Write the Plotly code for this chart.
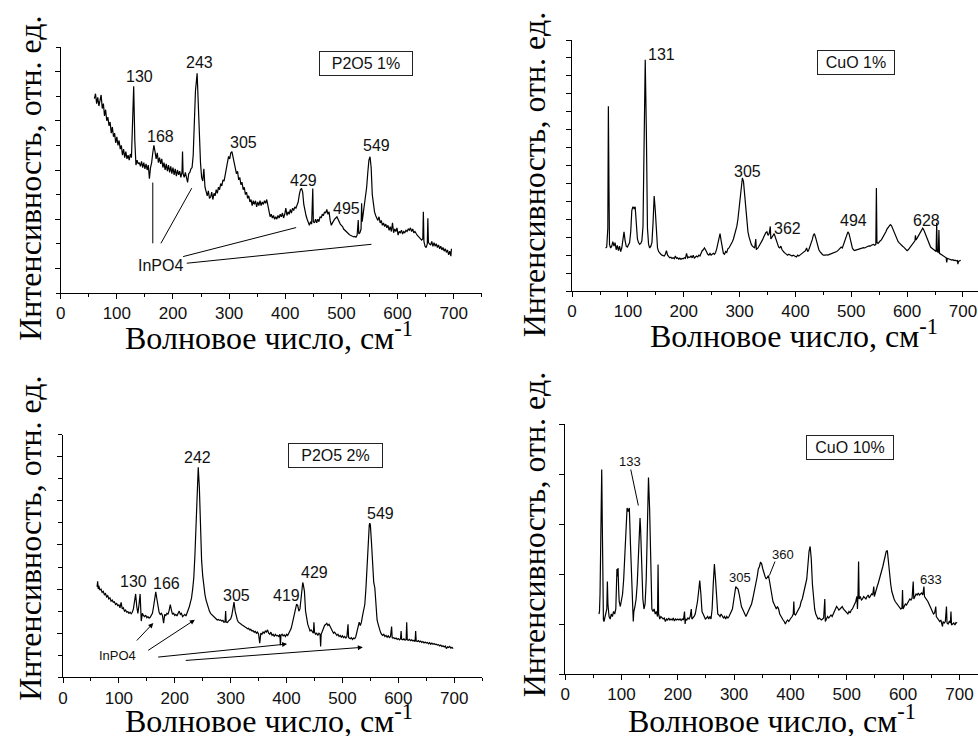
import plotly.graph_objects as go

# ---------------------------------------------------------------------------
# Raman spectra of glasses with additives (wavenumber, cm-1 / intensity, a.u.)
# ---------------------------------------------------------------------------

# P2O5 1 %
p2o5_1_wn = [60, 62, 64, 66, 68, 70, 72, 74, 76, 78, 80, 82, 84, 86, 88, 90, 92, 94, 96, 98,
             100, 102, 104, 106, 108, 110, 112, 114, 116, 118, 120, 122, 124, 126, 128, 130, 132, 134, 136, 138,
             140, 142, 144, 146, 148, 150, 152, 154, 156, 158, 160, 162, 164, 166, 168, 170, 172, 174, 176, 178,
             180, 182, 184, 186, 188, 190, 192, 194, 196, 198, 200, 202, 204, 206, 208, 210, 212, 214, 216, 217,
             218, 220, 222, 224, 226, 228, 230, 232, 234, 236, 238, 240, 243, 245, 247, 249, 251, 253, 255, 257,
             259, 261, 263, 265, 267, 269, 271, 273, 275, 277, 279, 281, 283, 285, 287, 289, 291, 293, 295, 297,
             299, 301, 303, 305, 307, 309, 311, 313, 315, 317, 319, 321, 323, 325, 327, 329, 331, 333, 335, 337,
             339, 341, 343, 345, 347, 349, 351, 353, 355, 357, 359, 361, 363, 365, 367, 369, 371, 373, 375, 377,
             379, 381, 383, 385, 387, 389, 391, 393, 395, 397, 399, 401, 403, 405, 407, 409, 411, 413, 415, 417,
             419, 421, 423, 425, 427, 429, 431, 433, 435, 437, 439, 441, 443, 445, 447, 449, 450, 452, 454, 456,
             458, 460, 462, 464, 466, 468, 470, 472, 474, 476, 478, 480, 482, 484, 486, 488, 490, 492, 494, 496,
             498, 500, 502, 504, 506, 508, 510, 512, 514, 516, 518, 520, 522, 524, 526, 528, 530, 531, 533, 535,
             536, 537, 539, 541, 543, 545, 547, 549, 551, 553, 555, 557, 559, 561, 563, 565, 567, 569, 571, 573,
             575, 577, 579, 581, 583, 585, 587, 589, 591, 593, 595, 597, 599, 601, 603, 605, 607, 609, 611, 613,
             615, 617, 619, 621, 623, 625, 627, 629, 631, 633, 635, 637, 639, 641, 643, 645, 646, 647, 649, 651,
             653, 654, 655, 657, 659, 661, 663, 665, 667, 669, 671, 673, 675, 677, 679, 681, 683, 685, 687, 689,
             691, 693, 695, 696]
p2o5_1_int = [7.9, 8.1, 7.7, 7.95, 7.6, 7.85, 8.05, 7.5, 7.7, 7.2, 7.45, 7.0, 7.15, 6.8, 6.95, 6.5, 6.75, 6.35, 6.5, 6.1,
              6.35, 6.0, 6.2, 5.85, 6.0, 5.6, 5.85, 5.5, 5.75, 5.45, 5.6, 5.4, 5.65, 5.5, 6.6, 8.4, 6.2, 5.2, 5.4, 5.25,
              5.3, 5.15, 5.35, 5.1, 5.3, 5.05, 5.25, 5.0, 5.2, 4.65, 5.1, 5.3, 5.7, 6.0, 5.75, 5.45, 5.7, 5.3, 5.5, 5.25,
              5.45, 5.1, 5.3, 5.0, 5.25, 4.95, 5.2, 4.9, 5.15, 4.85, 5.1, 4.8, 5.05, 4.75, 5.0, 4.8, 4.95, 4.7, 4.9, 5.75,
              4.85, 4.7, 4.9, 4.65, 4.5, 4.85, 4.9, 5.05, 5.1, 5.6, 6.8, 8.2, 8.93, 8.0, 6.5, 5.3, 4.7, 4.55, 5.05, 4.3,
              4.1, 3.95, 4.15, 3.85, 3.9, 4.1, 3.8, 4.05, 3.95, 4.2, 4.05, 4.3, 4.2, 4.45, 4.35, 4.6, 4.55, 4.8, 5.0, 5.3,
              5.55, 5.45, 5.7, 5.75, 5.5, 5.2, 5.0, 4.85, 4.95, 4.6, 4.7, 4.4, 4.5, 4.2, 4.3, 4.0, 4.1, 3.85, 3.95, 3.7,
              3.8, 3.55, 3.75, 3.6, 3.75, 3.5, 3.7, 3.55, 3.75, 3.55, 3.7, 3.6, 3.75, 3.65, 3.8, 3.5, 3.2, 3.1, 3.2, 3.05,
              3.15, 3.0, 3.1, 3.0, 3.15, 3.05, 3.2, 3.1, 3.25, 3.05, 3.2, 3.45, 3.15, 3.3, 3.2, 3.4, 3.25, 3.45, 3.35, 3.5,
              3.45, 3.6, 3.7, 4.0, 4.2, 4.25, 4.1, 3.6, 3.3, 3.15, 3.0, 2.85, 2.75, 2.9, 2.8, 4.25, 2.9, 2.85, 3.0, 2.85,
              3.0, 2.9, 3.1, 3.05, 3.2, 3.15, 3.3, 3.25, 3.4, 3.2, 3.3, 2.95, 2.75, 2.85, 2.95, 3.0, 3.05, 3.1, 3.0, 2.85,
              2.8, 2.75, 2.7, 2.6, 2.55, 2.5, 2.45, 2.42, 2.38, 2.35, 2.32, 2.3, 2.28, 2.3, 2.27, 2.35, 2.97, 2.4, 2.45, 2.6,
              3.65, 2.9, 3.2, 3.6, 3.9, 4.3, 4.9, 5.4, 5.54, 5.1, 4.0, 3.5, 3.3, 3.15, 3.0, 2.95, 3.1, 2.85, 2.95, 2.75,
              2.85, 2.7, 2.8, 2.65, 2.75, 2.55, 2.7, 2.5, 2.85, 2.45, 2.6, 2.5, 2.65, 2.35, 2.5, 2.45, 2.55, 2.4, 2.5, 2.45,
              2.55, 2.5, 2.6, 2.55, 2.65, 2.5, 2.6, 2.45, 2.5, 2.4, 2.35, 2.3, 2.25, 2.2, 2.15, 2.2, 3.3, 2.1, 1.9, 1.85,
              2.0, 3.04, 2.05, 2.0, 1.95, 2.1, 1.9, 2.05, 1.9, 2.0, 1.85, 1.95, 1.8, 1.9, 1.75, 1.85, 1.7, 1.8, 1.65, 1.75,
              1.55, 1.7, 1.5, 1.8]

# CuO 1 %
cuo_1_wn = [60, 62, 64, 65, 66, 67, 69, 71, 73, 75, 77, 79, 81, 83, 85, 87, 89, 91, 93, 95,
            97, 99, 101, 103, 105, 107, 109, 111, 113, 115, 117, 119, 121, 123, 125, 127, 129, 131, 133, 135,
            137, 139, 141, 143, 145, 147, 149, 151, 153, 155, 157, 159, 161, 163, 165, 167, 169, 171, 173, 175,
            177, 179, 181, 183, 185, 187, 189, 191, 193, 195, 197, 199, 201, 203, 205, 207, 209, 211, 213, 215,
            217, 219, 221, 223, 225, 227, 229, 231, 233, 235, 237, 239, 241, 243, 245, 247, 249, 251, 253, 255,
            257, 259, 261, 263, 265, 267, 269, 271, 273, 275, 277, 279, 281, 283, 285, 287, 289, 291, 293, 295,
            297, 299, 301, 303, 305, 307, 309, 311, 313, 315, 317, 319, 321, 323, 325, 327, 329, 330, 331, 333,
            335, 337, 339, 341, 343, 345, 347, 349, 351, 353, 355, 356, 358, 360, 362, 364, 366, 368, 370, 372,
            374, 376, 378, 380, 382, 384, 386, 388, 390, 392, 394, 396, 398, 400, 402, 404, 406, 408, 410, 412,
            414, 416, 418, 420, 422, 424, 426, 428, 430, 432, 434, 436, 438, 440, 442, 444, 446, 448, 450, 452,
            454, 456, 458, 460, 462, 464, 466, 468, 470, 472, 474, 476, 478, 480, 482, 484, 486, 488, 490, 492,
            494, 496, 498, 500, 502, 504, 506, 508, 510, 512, 514, 516, 518, 520, 522, 524, 526, 528, 530, 532,
            534, 536, 538, 540, 542, 544, 545, 546, 548, 550, 552, 554, 556, 558, 560, 562, 564, 566, 568, 570,
            572, 574, 576, 578, 580, 582, 584, 586, 588, 590, 592, 594, 596, 598, 600, 602, 604, 606, 608, 610,
            612, 614, 615, 616, 618, 620, 622, 624, 626, 628, 630, 632, 634, 636, 638, 640, 642, 644, 646, 648,
            650, 652, 653, 654, 656, 657, 658, 660, 662, 664, 666, 668, 670, 671, 672, 674, 676, 678, 680, 682,
            684, 686, 688, 690, 691, 692, 694, 696]
cuo_1_int = [2.4, 2.45, 3.5, 10.3, 6.0, 2.6, 2.4, 2.5, 2.75, 2.5, 2.7, 2.3, 2.55, 2.25, 2.5, 2.2, 2.4, 2.9, 3.3, 2.8,
             2.5, 2.45, 2.55, 2.7, 3.3, 4.5, 4.7, 4.6, 4.7, 3.8, 2.9, 2.7, 2.6, 2.65, 2.8, 3.6, 8.0, 12.9, 9.0, 3.5,
             2.6, 2.4, 2.5, 2.7, 3.8, 5.3, 4.5, 3.0, 2.4, 2.2, 2.1, 2.05, 2.0, 1.98, 1.95, 2.05, 2.25, 2.0, 1.9, 1.85,
             1.88, 1.82, 1.86, 1.8, 1.95, 1.82, 1.85, 1.78, 1.83, 1.76, 1.82, 1.8, 1.85, 1.82, 2.1, 1.85, 1.9, 1.88, 1.95, 1.85,
             2.0, 1.82, 1.9, 1.95, 1.9, 2.0, 1.95, 2.15, 2.25, 2.3, 2.4, 2.3, 2.15, 2.05, 2.0, 2.1, 2.0, 2.05, 2.1, 2.05,
             2.15, 2.35, 2.7, 3.0, 3.2, 2.8, 2.3, 2.1, 2.05, 2.2, 2.15, 2.35, 2.4, 2.5, 2.6, 2.75, 2.9, 3.1, 3.3, 3.6,
             4.0, 4.6, 5.3, 5.9, 6.3, 6.1, 5.3, 4.5, 3.8, 3.3, 3.0, 2.75, 2.6, 2.5, 2.45, 2.4, 2.9, 2.3, 2.35, 2.4,
             2.5, 2.6, 2.7, 2.85, 3.0, 3.15, 3.25, 3.3, 3.1, 3.2, 3.6, 2.9, 3.0, 3.1, 3.2, 3.0, 2.8, 2.6, 2.45, 2.4,
             2.5, 2.3, 2.2, 2.15, 2.1, 2.05, 2.0, 2.05, 2.0, 1.98, 1.95, 2.0, 1.95, 1.93, 1.9, 2.0, 1.95, 2.0, 2.05, 2.1,
             2.15, 2.2, 2.25, 2.4, 2.2, 2.3, 2.45, 2.6, 2.85, 3.1, 3.2, 3.0, 2.7, 2.45, 2.3, 2.2, 2.1, 2.05, 2.0, 1.98,
             2.0, 2.02, 2.0, 2.03, 2.05, 2.08, 2.1, 2.12, 2.15, 2.18, 2.2, 2.25, 2.3, 2.35, 2.45, 2.4, 2.6, 2.7, 2.9, 3.15,
             3.3, 3.2, 2.9, 2.6, 2.4, 2.3, 2.25, 2.28, 2.3, 2.32, 2.35, 2.33, 2.38, 2.4, 2.42, 2.4, 2.45, 2.48, 2.5, 2.52,
             2.5, 2.55, 2.58, 2.6, 2.55, 2.6, 5.75, 2.7, 2.65, 2.75, 2.8, 2.85, 2.95, 3.05, 3.15, 3.3, 3.45, 3.55, 3.6, 3.7,
             3.65, 3.5, 3.3, 3.1, 2.95, 2.85, 2.75, 2.68, 2.6, 2.55, 2.5, 2.45, 2.38, 2.3, 2.25, 2.3, 2.38, 2.45, 2.52, 2.6,
             2.7, 2.8, 3.1, 2.85, 2.95, 3.05, 3.15, 3.3, 3.4, 3.5, 3.4, 3.25, 3.05, 2.85, 2.7, 2.55, 2.45, 2.4, 2.35, 2.3,
             2.25, 2.2, 3.8, 2.2, 2.15, 3.4, 2.1, 2.05, 2.0, 1.95, 1.9, 1.88, 1.85, 1.6, 1.82, 1.8, 1.78, 1.75, 1.72, 1.75,
             1.7, 1.72, 1.68, 1.7, 1.5, 1.65, 1.7, 1.72]

# P2O5 2 %
p2o5_2_wn = [61, 62, 63, 64, 66, 68, 70, 72, 74, 76, 78, 80, 82, 84, 86, 88, 90, 92, 94, 96,
             98, 100, 102, 104, 106, 108, 110, 112, 114, 116, 118, 120, 122, 124, 126, 128, 130, 132, 134, 136,
             138, 140, 142, 144, 146, 148, 150, 152, 154, 156, 158, 160, 162, 164, 166, 168, 170, 172, 174, 176,
             178, 180, 182, 184, 186, 188, 190, 192, 194, 196, 198, 200, 202, 204, 206, 208, 210, 212, 214, 216,
             218, 220, 222, 224, 226, 228, 230, 232, 234, 236, 238, 240, 242, 244, 246, 248, 250, 252, 254, 256,
             258, 260, 262, 264, 266, 268, 270, 272, 274, 276, 278, 280, 282, 284, 286, 288, 290, 291, 292, 294,
             296, 298, 300, 302, 304, 306, 308, 310, 312, 314, 316, 318, 320, 322, 324, 326, 328, 330, 332, 334,
             336, 338, 340, 342, 344, 346, 348, 350, 352, 354, 356, 358, 360, 362, 364, 366, 368, 370, 372, 374,
             376, 378, 380, 382, 384, 386, 388, 389, 390, 392, 394, 396, 398, 400, 402, 404, 406, 408, 410, 412,
             414, 416, 418, 420, 422, 424, 426, 428, 429, 430, 432, 434, 436, 438, 440, 442, 444, 446, 448, 449,
             450, 452, 454, 456, 458, 460, 461, 462, 464, 466, 468, 470, 472, 474, 476, 478, 480, 482, 484, 486,
             488, 490, 492, 494, 496, 498, 500, 502, 504, 506, 508, 510, 511, 512, 514, 516, 518, 520, 522, 524,
             526, 528, 530, 532, 534, 536, 538, 540, 542, 544, 546, 548, 549, 550, 552, 554, 556, 558, 560, 562,
             564, 566, 568, 570, 572, 574, 576, 578, 580, 582, 584, 586, 588, 589, 590, 592, 594, 596, 598, 600,
             602, 604, 605, 606, 608, 610, 612, 614, 615, 616, 618, 620, 622, 624, 626, 628, 630, 631, 632, 634,
             636, 638, 640, 642, 644, 646, 648, 650, 652, 654, 656, 658, 660, 662, 664, 666, 668, 670, 672, 674,
             676, 678, 680, 682, 684, 686, 688, 690, 692, 694, 696, 698]
p2o5_2_int = [4.1, 4.35, 4.0, 4.15, 3.95, 4.0, 3.85, 3.9, 3.75, 3.8, 3.65, 3.7, 3.55, 3.6, 3.45, 3.5, 3.4, 3.42, 3.3, 3.35,
              3.25, 3.28, 3.15, 3.4, 3.1, 3.15, 3.0, 3.05, 2.95, 2.98, 2.9, 2.95, 2.88, 2.95, 3.1, 3.5, 3.78, 3.2, 2.9, 3.3,
              3.78, 2.55, 2.9, 2.8, 2.75, 2.82, 2.7, 2.75, 2.68, 2.72, 2.8, 2.9, 3.2, 3.6, 3.87, 3.55, 3.1, 2.95, 2.85, 2.9,
              2.8, 2.45, 2.85, 2.8, 2.9, 2.85, 3.05, 3.29, 3.05, 2.85, 2.9, 2.8, 2.85, 2.78, 2.9, 3.0, 2.85, 2.9, 2.75, 2.8,
              2.85, 2.78, 2.9, 3.05, 3.2, 3.4, 3.6, 4.0, 4.5, 5.5, 7.2, 8.8, 9.52, 8.6, 6.6, 5.3, 4.6, 4.1, 3.75, 3.5,
              3.3, 3.15, 3.0, 2.9, 2.85, 2.78, 2.72, 2.68, 2.65, 2.6, 2.62, 2.58, 2.6, 2.55, 2.58, 2.5, 2.52, 3.0, 2.5, 2.48,
              2.55, 2.6, 2.65, 2.8, 3.1, 3.41, 3.0, 2.7, 2.6, 2.5, 2.45, 2.4, 2.38, 2.35, 2.3, 2.28, 2.25, 2.2, 2.22, 2.15,
              2.18, 2.1, 2.12, 2.05, 2.08, 2.0, 2.05, 1.95, 1.55, 2.0, 1.95, 2.05, 2.0, 2.1, 2.05, 2.15, 2.0, 1.95, 2.05, 1.9,
              1.95, 1.85, 1.95, 1.88, 1.9, 1.85, 1.95, 1.45, 1.9, 1.95, 1.88, 1.92, 1.85, 1.95, 1.9, 2.0, 2.05, 2.2, 2.4, 2.6,
              2.8, 3.0, 3.32, 3.25, 3.0, 3.1, 3.5, 4.1, 4.3, 4.2, 3.9, 3.0, 2.6, 2.4, 2.25, 2.1, 2.15, 2.05, 2.0, 2.5,
              2.05, 1.95, 2.0, 1.9, 2.0, 1.95, 1.4, 1.95, 2.1, 2.2, 2.35, 2.39, 2.45, 2.35, 2.4, 2.3, 2.2, 2.1, 2.0, 2.05,
              1.95, 1.9, 1.95, 1.85, 1.9, 1.82, 1.88, 1.8, 1.85, 1.78, 1.85, 2.4, 1.8, 1.78, 1.75, 1.8, 1.72, 1.78, 1.75, 1.85,
              2.1, 2.4, 2.5, 2.35, 2.5, 2.8, 3.1, 3.3, 4.0, 5.2, 6.2, 6.9, 6.99, 6.9, 6.1, 5.0, 4.3, 4.05, 3.2, 2.6,
              2.4, 2.2, 2.05, 1.95, 1.9, 1.95, 1.85, 1.9, 1.82, 1.88, 1.8, 1.85, 2.3, 1.8, 1.78, 1.8, 1.75, 1.78, 1.72, 1.76,
              1.7, 1.75, 2.1, 1.72, 1.7, 1.74, 1.68, 1.72, 2.5, 1.7, 1.68, 1.72, 1.66, 1.7, 1.65, 1.68, 1.62, 2.1, 1.65, 1.62,
              1.66, 1.6, 1.64, 1.58, 1.62, 1.56, 1.6, 1.55, 1.58, 1.52, 1.57, 1.5, 1.55, 1.5, 1.53, 1.48, 1.5, 1.46, 1.48, 1.42,
              1.46, 1.4, 1.43, 1.38, 1.42, 1.3, 1.38, 1.35, 1.4, 1.32, 1.36, 1.3]

# CuO 10 %
cuo_10_wn = [60, 61, 62, 64, 65, 66, 67, 68, 69, 70, 72, 74, 75, 76, 78, 80, 82, 84, 86, 88,
             90, 91, 92, 93, 94, 95, 96, 98, 100, 102, 104, 106, 108, 110, 112, 114, 116, 118, 120, 121,
             122, 124, 126, 128, 130, 132, 133, 134, 136, 138, 140, 142, 144, 146, 148, 150, 152, 154, 156, 158,
             160, 162, 164, 165, 166, 168, 170, 172, 174, 176, 178, 180, 182, 184, 186, 188, 190, 192, 194, 196,
             198, 200, 202, 204, 206, 208, 210, 212, 213, 214, 216, 218, 220, 222, 224, 225, 227, 229, 231, 233,
             235, 237, 239, 241, 243, 245, 247, 249, 251, 253, 255, 257, 259, 261, 263, 265, 267, 269, 271, 273,
             275, 277, 279, 281, 283, 285, 287, 289, 291, 293, 295, 297, 299, 301, 303, 305, 307, 309, 311, 313,
             315, 317, 319, 321, 323, 325, 327, 329, 331, 333, 335, 337, 339, 341, 343, 345, 347, 349, 351, 353,
             355, 357, 359, 361, 363, 365, 367, 369, 371, 373, 375, 377, 379, 381, 383, 385, 387, 389, 391, 393,
             395, 397, 399, 401, 403, 405, 406, 407, 409, 411, 413, 415, 417, 419, 421, 423, 425, 427, 429, 431,
             433, 435, 437, 439, 441, 443, 445, 447, 449, 451, 453, 455, 457, 459, 461, 462, 464, 466, 468, 470,
             472, 474, 476, 478, 480, 482, 484, 486, 488, 490, 492, 494, 496, 498, 500, 502, 504, 506, 508, 510,
             512, 514, 516, 518, 519, 520, 521, 522, 524, 526, 528, 530, 532, 534, 536, 538, 540, 542, 544, 546,
             548, 549, 550, 552, 554, 556, 558, 560, 562, 564, 566, 568, 570, 572, 574, 576, 578, 580, 582, 584,
             586, 588, 590, 592, 594, 596, 598, 599, 600, 602, 604, 606, 608, 610, 612, 614, 616, 618, 619, 621,
             623, 625, 627, 629, 631, 633, 635, 637, 638, 640, 642, 644, 646, 648, 650, 652, 654, 656, 658, 659,
             661, 663, 665, 667, 669, 670, 671, 673, 675, 677, 678, 680, 682, 684, 685, 686, 688, 690, 692, 694,
             696]
cuo_10_int = [1.2, 1.25, 1.6, 3.5, 4.09, 3.0, 1.5, 1.08, 1.05, 1.1, 1.15, 1.3, 1.85, 1.4, 1.15, 1.1, 1.2, 1.15, 1.25, 1.2,
              1.3, 1.9, 2.1, 1.95, 2.12, 1.7, 1.45, 1.35, 1.45, 1.6, 1.9, 2.5, 3.1, 3.32, 3.25, 3.32, 2.6, 1.7, 1.35, 1.05,
              1.25, 1.35, 1.5, 1.8, 2.5, 3.1, 3.12, 2.9, 2.2, 1.5, 1.3, 1.4, 1.9, 3.2, 3.93, 3.3, 1.9, 1.3, 1.25, 1.3,
              1.2, 1.25, 1.15, 2.19, 1.2, 1.1, 1.15, 1.12, 1.1, 1.12, 1.05, 1.1, 1.08, 1.12, 1.08, 1.1, 1.08, 1.12, 1.06, 1.1,
              1.08, 1.1, 1.08, 1.1, 1.07, 1.1, 1.08, 1.25, 1.0, 1.1, 1.08, 1.12, 1.1, 1.15, 1.3, 1.1, 1.12, 1.15, 1.2, 1.3,
              1.45, 1.65, 1.87, 1.6, 1.25, 1.2, 1.15, 1.1, 1.12, 1.15, 1.1, 1.15, 1.1, 1.3, 1.8, 2.2, 1.9, 1.4, 1.2, 1.18,
              1.15, 1.2, 1.15, 1.12, 1.15, 1.1, 1.15, 1.12, 1.15, 1.2, 1.25, 1.3, 1.45, 1.6, 1.75, 1.72, 1.7, 1.6, 1.45, 1.35,
              1.3, 1.25, 1.2, 1.15, 1.2, 1.25, 1.3, 1.35, 1.4, 1.5, 1.6, 1.7, 1.8, 1.95, 2.1, 2.15, 2.24, 2.2, 2.1, 2.0,
              1.95, 1.9, 1.95, 1.97, 1.85, 1.7, 1.55, 1.45, 1.4, 1.35, 1.3, 1.35, 1.3, 1.2, 1.15, 1.1, 1.08, 1.05, 1.0, 1.05,
              1.08, 1.05, 1.1, 1.12, 1.15, 1.2, 1.45, 1.2, 1.18, 1.22, 1.25, 1.3, 1.35, 1.45, 1.5, 1.6, 1.75, 1.8, 1.9, 2.2,
              2.45, 2.55, 2.3, 1.8, 1.5, 1.3, 1.2, 1.15, 1.1, 1.12, 1.1, 1.08, 1.1, 1.12, 1.5, 1.05, 1.1, 1.15, 1.12, 1.15,
              1.18, 1.15, 1.2, 1.22, 1.3, 1.35, 1.32, 1.28, 1.3, 1.32, 1.35, 1.3, 1.28, 1.25, 1.22, 1.2, 1.25, 1.22, 1.28, 1.3,
              1.35, 1.4, 1.45, 1.55, 1.3, 1.6, 2.25, 1.5, 1.55, 1.48, 1.5, 1.55, 1.52, 1.5, 1.55, 1.58, 1.52, 1.55, 1.6, 1.58,
              1.75, 1.55, 1.6, 1.68, 1.75, 1.82, 1.9, 1.95, 2.05, 2.15, 2.25, 2.35, 2.45, 2.47, 2.2, 1.95, 1.8, 1.65, 1.55, 1.5,
              1.45, 1.42, 1.38, 1.35, 1.32, 1.3, 1.32, 1.68, 1.3, 1.35, 1.4, 1.38, 1.42, 1.45, 1.5, 1.48, 1.52, 1.85, 1.5, 1.55,
              1.6, 1.58, 1.62, 1.58, 1.6, 1.62, 1.58, 1.75, 1.55, 1.52, 1.5, 1.45, 1.4, 1.35, 1.3, 1.25, 1.2, 1.22, 1.35, 1.15,
              1.12, 1.1, 1.05, 1.08, 1.0, 0.95, 1.05, 1.02, 1.05, 1.35, 1.02, 1.0, 1.05, 1.02, 1.25, 0.98, 1.0, 1.02, 0.98, 1.03,
              1.02]

# Peak labels: (text, x, y)
p2o5_1_labels = [("130", 140, 8.79), ("243", 248, 9.36), ("168", 177, 6.38), ("305", 325, 6.12),
                 ("429", 432, 4.59), ("549", 563, 5.98), ("495", 509, 3.44)]
cuo_1_labels = [("131", 161, 13.2), ("305", 314, 6.65), ("362", 386, 3.46), ("494", 504, 3.96),
                ("628", 635, 3.96)]
p2o5_2_labels = [("130", 127, 4.35), ("166", 185, 4.27), ("242", 240, 9.97), ("305", 311, 3.72),
                 ("419", 400, 3.72), ("429", 450, 4.77), ("549", 569, 7.42)]
cuo_10_labels = [("133", 115, 4.25), ("305", 310, 1.93), ("360", 387, 2.39), ("633", 650, 1.89)]

# InPO4 pointers: (x0, y0, x1, y1)
p2o5_1_inpo4 = [(164, 2.02, 164, 4.49), (178.5, 2.02, 233.4, 4.26),
                (218, 1.48, 419.4, 2.66), (224.5, 1.21, 553.5, 1.98)]
p2o5_2_inpo4 = [(129.5, 1.6, 161.6, 2.46), (149.8, 1.18, 236, 2.61),
                (167.6, 0.91, 401, 1.51), (216.9, 0.76, 536.5, 1.36)]
cuo_10_leaders = [(116.5, 4.09, 130, 3.37), (372.6, 2.25, 362.6, 1.97)]

W, H = 978, 736
SANS = "Liberation Sans, Arial, sans-serif"
SERIF = "Liberation Serif, Times New Roman, serif"
Y_TITLE = "Интенсивность, отн. ед."
X_TITLE = "Волновое число, см<sup>-1</sup>"


def fx(p):
    return p / W


def fy(p):
    return 1 - p / H


# Panel frames in pixels: (x-left, x-right, y-top, y-bottom); title centres in pixels
panels = [
    dict(wn=p2o5_1_wn, inten=p2o5_1_int, box="P2O5 1%", box_xy=(543, 9.34), box_w=86,
         dom=(56, 479.2, 47, 293), xmax=750, ymax=10, ymaj=[1, 3, 5, 7, 9],
         ytitle=(25, 178), xtitle=(265, 336)),
    dict(wn=cuo_1_wn, inten=cuo_1_int, box="CuO 1%", box_xy=(509, 12.75), box_w=70,
         dom=(570, 978, 40, 291), xmax=727, ymax=14, ymaj=list(range(0, 15)),
         ytitle=(532, 175), xtitle=(793, 334)),
    dict(wn=p2o5_2_wn, inten=p2o5_2_int, box="P2O5 2%", box_xy=(487, 10.06), box_w=87,
         dom=(58.3, 479.6, 434.7, 677.3), xmax=750, ymax=11, ymaj=[2, 4, 6, 8, 10],
         ytitle=(25, 538), xtitle=(265, 719)),
    dict(wn=cuo_10_wn, inten=cuo_10_int, box="CuO 10%", box_xy=(506, 4.54), box_w=80,
         dom=(563, 978, 424, 674), xmax=733, ymax=5, ymaj=[0, 1, 2, 3, 4, 5],
         ytitle=(532, 535), xtitle=(771, 719)),
]

fig = go.Figure()
annotations = []
shapes = []

for i, p in enumerate(panels, start=1):
    sfx = "" if i == 1 else str(i)
    xa, ya = "x" + sfx, "y" + sfx
    fig.add_trace(go.Scatter(x=p["wn"], y=p["inten"], mode="lines",
                             line=dict(color="black", width=1.2),
                             xaxis=xa, yaxis=ya, showlegend=False, hoverinfo="skip"))
    x0, x1, y0, y1 = p["dom"]
    fig.layout["xaxis" + sfx] = dict(
        domain=[fx(x0), fx(x1)], range=[0, p["xmax"]], anchor=ya,
        showline=True, linecolor="black", linewidth=1, showgrid=False, zeroline=False,
        tickmode="array", tickvals=[0, 100, 200, 300, 400, 500, 600, 700],
        ticks="outside", ticklen=5, tickcolor="black",
        minor=dict(tickmode="array", tickvals=[50, 150, 250, 350, 450, 550, 650, 750],
                   ticks="outside", ticklen=3, tickcolor="black", showgrid=False),
        tickfont=dict(family=SANS, size=17, color="#111"))
    fig.layout["yaxis" + sfx] = dict(
        domain=[fy(y1), fy(y0)], range=[0, p["ymax"]], anchor=xa,
        showline=True, linecolor="black", linewidth=1, showgrid=False, zeroline=False,
        tickmode="array", tickvals=p["ymaj"], showticklabels=False,
        ticks="outside", ticklen=5, tickcolor="black",
        minor=dict(dtick=1, tick0=0, ticks="outside", ticklen=4, tickcolor="black", showgrid=False))

    # sample caption box
    bx, by = p["box_xy"]
    annotations.append(dict(x=bx, y=by, xref=xa, yref=ya, text=p["box"], showarrow=False,
                            font=dict(family=SANS, size=16, color="#111"),
                            bordercolor="#222", borderwidth=1, borderpad=3, width=p["box_w"],
                            bgcolor="white"))

    # axis titles
    tx, ty = p["ytitle"]
    annotations.append(dict(x=fx(tx), y=fy(ty), xref="paper", yref="paper",
                            xanchor="center", yanchor="middle",
                            text=Y_TITLE, textangle=-90, showarrow=False,
                            font=dict(family=SERIF, size=32, color="black")))
    tx, ty = p["xtitle"]
    annotations.append(dict(x=fx(tx), y=fy(ty), xref="paper", yref="paper",
                            xanchor="center", yanchor="middle",
                            text=X_TITLE, showarrow=False,
                            font=dict(family=SERIF, size=32, color="black")))

label_sets = [(p2o5_1_labels, 16), (cuo_1_labels, 16), (p2o5_2_labels, 16), (cuo_10_labels, 13)]
for i, (labels, size) in enumerate(label_sets, start=1):
    sfx = "" if i == 1 else str(i)
    for txt, lx, ly in labels:
        annotations.append(dict(x=lx, y=ly, xref="x" + sfx, yref="y" + sfx, text=txt,
                                showarrow=False, font=dict(family=SANS, size=size, color="#111")))

# InPO4 markers
annotations.append(dict(x=177, y=1.11, xref="x", yref="y", text="InPO4", showarrow=False,
                        font=dict(family=SANS, size=16, color="#111")))
for a, b, c, d in p2o5_1_inpo4:
    shapes.append(dict(type="line", xref="x", yref="y", x0=a, y0=b, x1=c, y1=d,
                       line=dict(color="black", width=1)))

annotations.append(dict(x=98, y=1.0, xref="x3", yref="y3", text="InPO4", showarrow=False,
                        font=dict(family=SANS, size=13, color="#111")))
for a, b, c, d in p2o5_2_inpo4:
    annotations.append(dict(x=c, y=d, ax=a, ay=b, xref="x3", yref="y3", axref="x3", ayref="y3",
                            text="", showarrow=True, arrowhead=2, arrowsize=1, arrowwidth=1,
                            arrowcolor="black"))

for a, b, c, d in cuo_10_leaders:
    shapes.append(dict(type="line", xref="x4", yref="y4", x0=a, y0=b, x1=c, y1=d,
                       line=dict(color="black", width=1)))

fig.update_layout(width=W, height=H, margin=dict(l=0, r=0, t=0, b=0),
                  paper_bgcolor="white", plot_bgcolor="white",
                  annotations=annotations, shapes=shapes, showlegend=False)

fig.write_html("out.html")
